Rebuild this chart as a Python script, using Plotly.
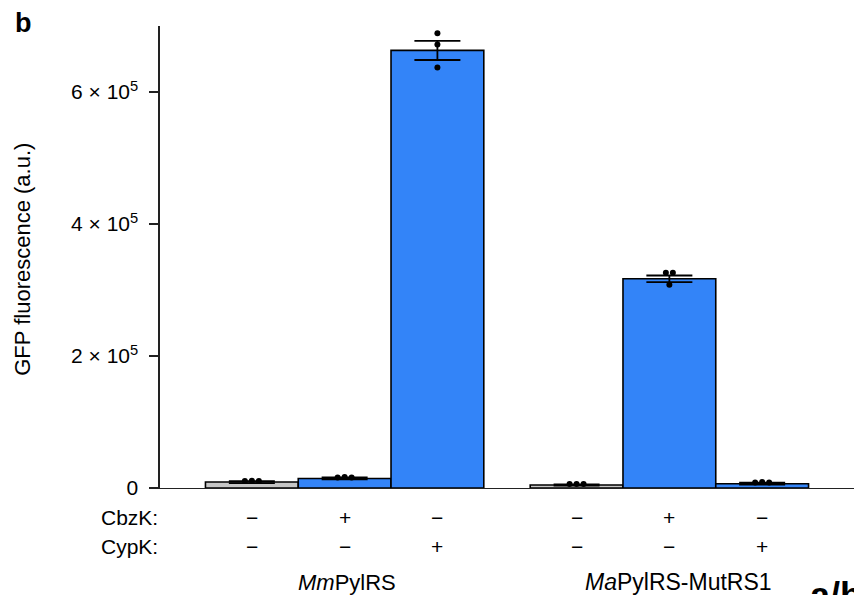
import plotly.graph_objects as go

# ---- data ----
groups = ["<i>Mm</i>PylRS", "<i>Ma</i>PylRS-MutRS1"]
group_of_bar = [0, 0, 0, 1, 1, 1]
cbzk = ["−", "+", "−", "−", "+", "−"]
cypk = ["−", "−", "+", "−", "−", "+"]
means = [9000, 14500, 663000, 4500, 317000, 6500]
errs = [1500, 1500, 14500, 800, 5000, 1500]
replicates = [
    [10500, 11000, 10500],
    [16000, 16500, 16000],
    [689000, 672000, 637000],
    [6000, 6000, 6000],
    [326000, 326000, 308000],
    [8500, 9000, 8500],
]
ytick_vals = [0, 200000, 400000, 600000]
ytick_text = ["0", "2 × 10<sup>5</sup>", "4 × 10<sup>5</sup>", "6 × 10<sup>5</sup>"]

# ---- styling ----
FONT = "Liberation Sans, Arial, Helvetica, sans-serif"
BLUE = "#3384f8"
GRAY = "#c6c6c6"
FS = 21

# positions: within-group index + half-bar gap between groups
pos = []
for g in group_of_bar:
    i = len(pos)
    pos.append(i + 0.5 * g)
colors = [GRAY if (a == "−" and b == "−") else BLUE for a, b in zip(cbzk, cypk)]

XR = [-0.99, 6.49]
YR = [0, 700000]
PLOT_W = 694
PLOT_H = 462.5
px_per_x = PLOT_W / (XR[1] - XR[0])
val_per_px = (YR[1] - YR[0]) / PLOT_H


def swarm(vals, p):
    """simple beeswarm: spread points that would overlap (in pixels)."""
    order = sorted(range(len(vals)), key=lambda k: vals[k])
    clusters = []
    for k in order:
        if clusters and abs(vals[k] - vals[clusters[-1][-1]]) / val_per_px < 5:
            clusters[-1].append(k)
        else:
            clusters.append([k])
    xs = [p] * len(vals)
    for c in clusters:
        n = len(c)
        for j, k in enumerate(sorted(c)):
            xs[k] = p + (j - (n - 1) / 2) * 7 / px_per_x
    return xs


fig = go.Figure()
fig.add_trace(go.Bar(
    x=pos, y=means, width=1.0,
    marker=dict(color=colors, line=dict(color="black", width=1.6)),
    error_y=dict(type="data", array=errs, visible=True, color="black",
                 thickness=1.8, width=23),
    showlegend=False, hoverinfo="skip",
))
px_all, py_all = [], []
for p, reps in zip(pos, replicates):
    xs = swarm(reps, p)
    px_all += xs
    py_all += reps
fig.add_trace(go.Scatter(
    x=px_all, y=py_all, mode="markers",
    marker=dict(color="black", size=6),
    showlegend=False, hoverinfo="skip",
))

ann = []
def py2paper(py):
    return (488.5 - py) / PLOT_H

for p, a, b in zip(pos, cbzk, cypk):
    ann.append(dict(x=p, y=py2paper(518), xref="x", yref="paper", text=a,
                    showarrow=False, xanchor="center", yanchor="middle",
                    font=dict(size=FS, family=FONT, color="black")))
    ann.append(dict(x=p, y=py2paper(547), xref="x", yref="paper", text=b,
                    showarrow=False, xanchor="center", yanchor="middle",
                    font=dict(size=FS, family=FONT, color="black")))
for lab, py in [("CbzK:", 518), ("CypK:", 547)]:
    ann.append(dict(x=0, y=py2paper(py), xref="paper", yref="paper", text=lab,
                    showarrow=False, xanchor="right", yanchor="middle",
                    font=dict(size=FS, family=FONT, color="black")))
label_sizes = [22, 23]
label_shift = [2, 9]
for gi, g in enumerate(groups):
    members = [p for p, gg in zip(pos, group_of_bar) if gg == gi]
    cx = sum(members) / len(members)
    ann.append(dict(x=cx, y=py2paper(583), xref="x", yref="paper", text=g,
                    showarrow=False, xanchor="center", yanchor="middle",
                    xshift=label_shift[gi],
                    font=dict(size=label_sizes[gi], family=FONT, color="black")))
ann.append(dict(x=(23 - 160) / PLOT_W, y=py2paper(260), xref="paper", yref="paper",
                text="GFP fluorescence (a.u.)", textangle=-90, showarrow=False,
                xanchor="center", yanchor="middle",
                font=dict(size=22, family=FONT, color="black")))
ann.append(dict(x=(13 - 160) / PLOT_W, y=py2paper(23), xref="paper", yref="paper",
                text="<b>b</b>", showarrow=False, xanchor="left", yanchor="middle",
                font=dict(size=27, family=FONT, color="black")))
ann.append(dict(x=(808 - 160) / PLOT_W, y=py2paper(596), xref="paper", yref="paper",
                text="<b>a/b</b>", showarrow=False, xanchor="left", yanchor="middle",
                font=dict(size=36, family=FONT, color="black")))

fig.update_layout(
    width=854, height=595,
    margin=dict(l=160, r=0, t=26, b=106.5, pad=0, autoexpand=False),
    plot_bgcolor="white", paper_bgcolor="white",
    bargap=0,
    annotations=ann,
    font=dict(family=FONT, size=FS, color="black"),
    xaxis=dict(range=XR, showgrid=False, zeroline=False, showticklabels=False,
               ticks="", showline=True, linecolor="#222", linewidth=1.2,
               fixedrange=True, automargin=False),
    yaxis=dict(range=YR, showgrid=False, zeroline=False, showline=True,
               linecolor="#222", linewidth=1.6, ticks="outside", ticklen=9,
               tickwidth=1.4, tickcolor="#222", tickvals=ytick_vals,
               ticktext=ytick_text, ticklabelstandoff=7, automargin=False,
               tickfont=dict(size=FS, family=FONT, color="black")),
)
fig.write_html(
    "out.html",
    config={"displayModeBar": False, "staticPlot": True},
    post_script="document.body.style.margin='0';document.body.style.overflow='hidden';",
)
